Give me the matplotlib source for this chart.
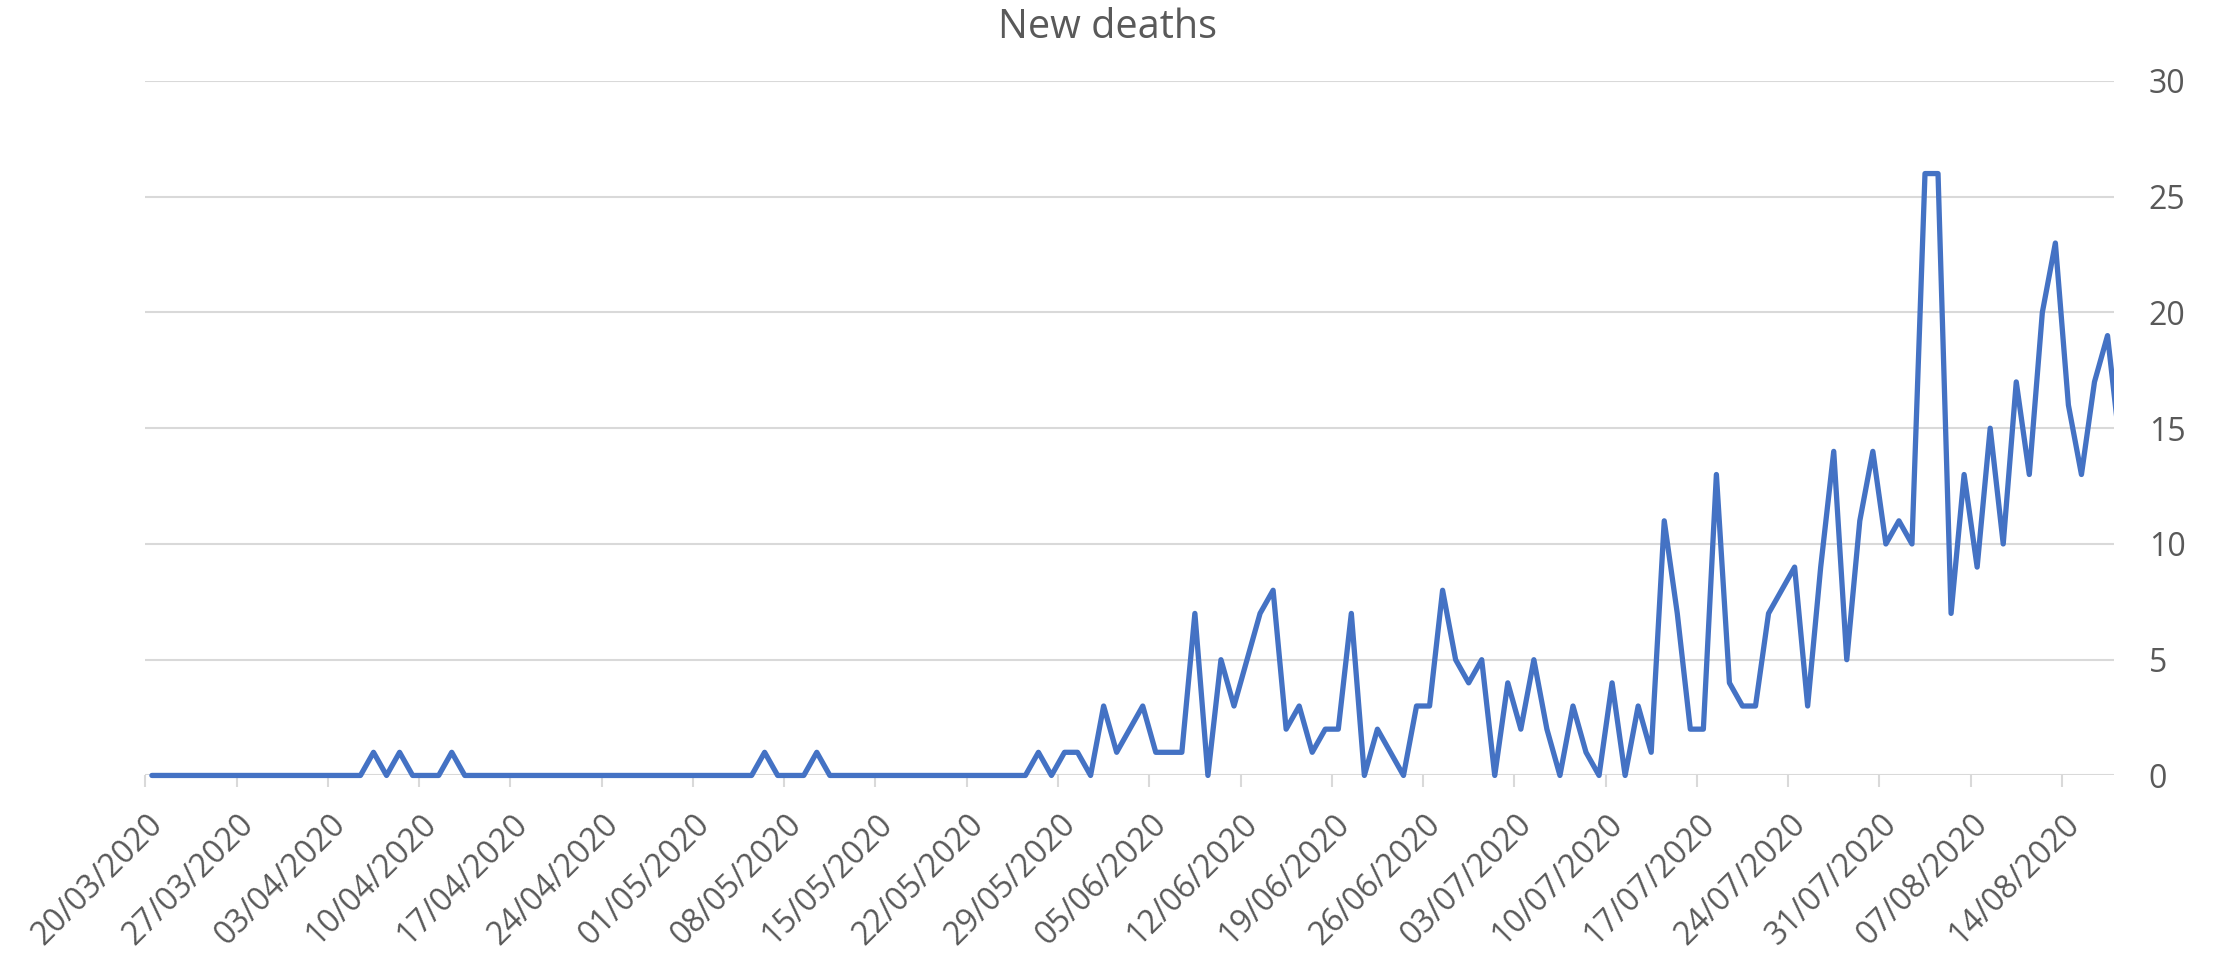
import matplotlib.pyplot as plt
from matplotlib.patches import Rectangle
import pandas as pd

plt.rcParams['font.family'] = ['Open Sans', 'DejaVu Sans']

# daily new deaths, one value per day starting 20/03/2020
new_deaths = [
    0, 0, 0, 0, 0, 0, 0, 0, 0, 0,
    0, 0, 0, 0, 0, 0, 0, 1, 0, 1,
    0, 0, 0, 1, 0, 0, 0, 0, 0, 0,
    0, 0, 0, 0, 0, 0, 0, 0, 0, 0,
    0, 0, 0, 0, 0, 0, 0, 1, 0, 0,
    0, 1, 0, 0, 0, 0, 0, 0, 0, 0,
    0, 0, 0, 0, 0, 0, 0, 0, 1, 0,
    1, 1, 0, 3, 1, 2, 3, 1, 1, 1,
    7, 0, 5, 3, 5, 7, 8, 2, 3, 1,
    2, 2, 7, 0, 2, 1, 0, 3, 3, 8,
    5, 4, 5, 0, 4, 2, 5, 2, 0, 3,
    1, 0, 4, 0, 3, 1, 11, 7, 2, 2,
    13, 4, 3, 3, 7, 8, 9, 3, 9, 14,
    5, 11, 14, 10, 11, 10, 26, 26, 7, 13,
    9, 15, 10, 17, 13, 20, 23, 16, 13, 17,
    19, 14,
]
start_date = "2020-03-20"
axis_end_date = "2020-08-17"
y_ticks = [0, 5, 10, 15, 20, 25, 30]

GREY_TEXT = '#595959'
GREY_LINE = '#d9d9d9'
BLUE = '#4472C4'

dates = pd.date_range(start_date, periods=len(new_deaths))
n_shown = len(pd.date_range(start_date, axis_end_date))
days = list(range(len(new_deaths)))

fig = plt.figure(figsize=(22.19, 9.57), dpi=100)
ax = fig.add_axes([0.0655, 0.1897, 0.8872, 0.7257])

line, = ax.plot(days, new_deaths, color=BLUE, lw=3.8,
                solid_joinstyle='round', solid_capstyle='round', zorder=3)
# clip only at the left/right edges so the line on zero keeps its full width
clip = Rectangle((0, -0.05), 1, 1.1, transform=ax.transAxes, visible=False)
ax.add_patch(clip)
line.set_clip_path(clip)

ax.set_xlim(-0.5, n_shown - 0.5)
ax.set_ylim(0, 30)
ax.set_yticks(y_ticks)
ax.yaxis.tick_right()
ax.grid(axis='y', color=GREY_LINE, lw=1.5, zorder=0)
ax.set_axisbelow(True)
for s in ax.spines.values():
    s.set_visible(False)

# weekly tick marks between categories, labels on the week start
week_idx = list(range(0, n_shown, 7))
ax.set_xticks([i - 0.5 for i in week_idx])
ax.set_xticks([i + 0.45 for i in week_idx],
              [dates[i].strftime('%d/%m/%Y') for i in week_idx], minor=True)
ax.tick_params(axis='x', which='major', length=8.6, width=1.5,
               color=GREY_LINE, labelbottom=False)
ax.tick_params(axis='x', which='minor', length=0, pad=32,
               labelsize=23, labelcolor=GREY_TEXT)
for lbl in ax.get_xticklabels(minor=True):
    lbl.set_rotation(45)
    lbl.set_ha('right')
    lbl.set_va('center')
    lbl.set_rotation_mode('anchor')
ax.tick_params(axis='y', length=0, pad=25, labelsize=23, labelcolor=GREY_TEXT)

fig.text(1107.5 / 2219, 1 - 38.3 / 957, 'New deaths', ha='center',
         va='baseline', fontsize=28.5, color=GREY_TEXT)

fig.savefig('out.png', dpi=100)
